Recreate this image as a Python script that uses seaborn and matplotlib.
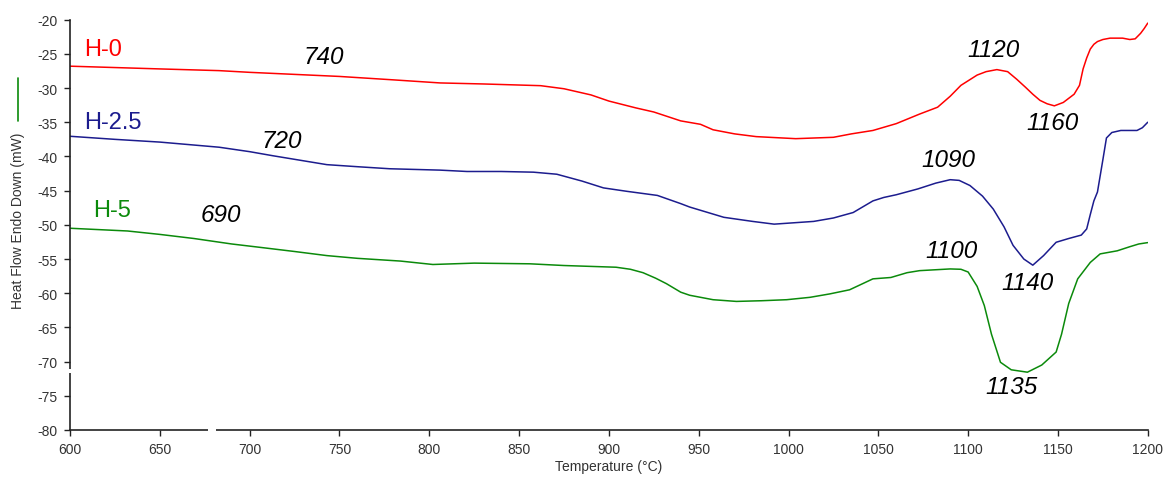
import numpy as np
import pandas as pd
import matplotlib
matplotlib.use("Agg")
import matplotlib.pyplot as plt
from matplotlib.lines import Line2D
from matplotlib.patches import Rectangle
import seaborn as sns

# ---------------- data ----------------
h0_temp = [600, 625, 650, 683, 700, 725, 750, 780, 806, 830, 862, 875, 890, 900, 915, 925,
           940, 951, 958, 970, 982, 1004, 1025, 1035, 1047, 1060, 1073, 1083, 1090, 1096,
           1105, 1110, 1116, 1122, 1127, 1132, 1136, 1140, 1144, 1148, 1153, 1159, 1162,
           1164, 1166, 1168, 1170, 1172, 1175, 1179, 1186, 1190, 1193, 1196, 1198, 1200]
h0_flow = [-26.8, -27.0, -27.2, -27.45, -27.7, -28.0, -28.3, -28.8, -29.25, -29.4, -29.65, -30.1,
           -31.0, -31.9, -32.9, -33.5, -34.8, -35.3, -36.1, -36.7, -37.1, -37.4, -37.2, -36.7,
           -36.2, -35.2, -33.8, -32.8, -31.2, -29.6, -28.1, -27.6, -27.3, -27.6, -28.7, -29.9,
           -30.9, -31.8, -32.3, -32.6, -32.1, -30.9, -29.6, -27.2, -25.6, -24.3, -23.6, -23.2,
           -22.9, -22.7, -22.7, -22.9, -22.8, -22.0, -21.3, -20.5]

h25_temp = [600, 625, 650, 683, 700, 713, 743, 760, 778, 806, 821, 840, 858, 871, 885, 897,
            910, 927, 940, 945, 964, 980, 992, 1014, 1025, 1036, 1047, 1053, 1060, 1072, 1082,
            1090, 1095, 1101, 1108, 1114, 1120, 1125, 1131, 1136, 1142, 1149, 1156, 1163,
            1166, 1168, 1170, 1172, 1175, 1177, 1180, 1185, 1190, 1194, 1197, 1200]
h25_flow = [-37.05, -37.5, -37.9, -38.65, -39.3, -39.9, -41.2, -41.5, -41.8, -42.0, -42.2, -42.2,
            -42.3, -42.6, -43.6, -44.6, -45.1, -45.7, -46.9, -47.4, -48.9, -49.5, -49.9, -49.5,
            -49.0, -48.2, -46.5, -46.0, -45.6, -44.75, -43.9, -43.4, -43.5, -44.25, -45.8, -47.7,
            -50.3, -53.0, -55.0, -55.9, -54.5, -52.55, -52.0, -51.5, -50.6, -48.5, -46.5, -45.2,
            -40.5, -37.3, -36.5, -36.2, -36.2, -36.2, -35.8, -35.0]

h5_temp = [600, 632, 650, 669, 690, 706, 725, 743, 760, 778, 784, 802, 825, 856, 875, 904,
           912, 919, 926, 932, 940, 945, 958, 971, 985, 999, 1012, 1023, 1034, 1047, 1057,
           1066, 1073, 1090, 1096, 1100, 1105, 1109, 1113, 1118, 1124, 1133, 1141, 1149,
           1152, 1156, 1161, 1168, 1173.5, 1183, 1190, 1195, 1200]
h5_flow = [-50.5, -50.9, -51.4, -52.0, -52.8, -53.3, -53.9, -54.5, -54.9, -55.2, -55.3, -55.8,
           -55.6, -55.7, -55.95, -56.2, -56.5, -57.0, -57.8, -58.6, -59.85, -60.3, -60.95, -61.2,
           -61.1, -60.95, -60.6, -60.1, -59.5, -57.9, -57.7, -57.0, -56.7, -56.45, -56.5, -56.9,
           -59.0, -61.8, -66.0, -70.1, -71.2, -71.55, -70.5, -68.6, -66.0, -61.5, -57.9, -55.5,
           -54.25, -53.8, -53.2, -52.8, -52.6]

series_names = ["H-0", "H-2.5", "H-5"]
series_colors = ["#ff0000", "#1c1c8e", "#0b8a0b"]

# series labels: (name, temp, value)
label_temp = [608, 608, 613]
label_flow = [-24.3, -35.0, -47.9]

# peak annotations
peak_text = ["740", "720", "690", "1120", "1160", "1090", "1100", "1140", "1135"]
peak_temp = [741, 718, 684, 1114, 1147, 1089, 1091, 1133, 1124]
peak_flow = [-25.4, -37.7, -48.5, -24.3, -35.0, -40.4, -53.8, -58.4, -73.7]

x_ticks = list(range(600, 1201, 50))
y_ticks = list(range(-80, -19, 5))

# ---------------- figure ----------------
sns.set_style("white")
plt.rcParams["font.family"] = ["Liberation Sans", "DejaVu Sans"]
plt.rcParams["axes.unicode_minus"] = False

df = pd.concat([
    pd.DataFrame({"Temperature": h0_temp, "Flow": h0_flow, "Sample": "H-0"}),
    pd.DataFrame({"Temperature": h25_temp, "Flow": h25_flow, "Sample": "H-2.5"}),
    pd.DataFrame({"Temperature": h5_temp, "Flow": h5_flow, "Sample": "H-5"}),
], ignore_index=True)

fig = plt.figure(figsize=(11.65, 4.81), dpi=100)
ax = fig.add_axes([0.0601, 0.104, 0.9251, 0.853])

sns.lineplot(data=df, x="Temperature", y="Flow", hue="Sample", sort=False,
             palette=dict(zip(series_names, series_colors)), linewidth=1.1,
             legend=False, ax=ax)

ax.set_xlim(600, 1200)
ax.set_ylim(-80, -20)
ax.set_xticks(x_ticks)
ax.set_yticks(y_ticks)
ax.tick_params(axis="both", direction="out", length=4, width=1.0, color="#222222",
               labelsize=10, labelcolor="#333333", pad=5, bottom=True, left=True)
for s in ["top", "right"]:
    ax.spines[s].set_visible(False)
for s in ["left", "bottom"]:
    ax.spines[s].set_color("#222222")
    ax.spines[s].set_linewidth(1.2)

ax.set_xlabel("Temperature (°C)", fontsize=10, color="#333333", labelpad=2)
ax.set_ylabel("")
fig.text(18 / 1165, 1 - 221 / 481, "Heat Flow Endo Down (mW)", rotation=90,
         ha="center", va="center", fontsize=10, color="#333333")
fig.add_artist(Line2D([18 / 1165, 18 / 1165], [1 - 79 / 481, 1 - 122 / 481],
                      color="#0b8a0b", linewidth=1.2))

for name, col, tx, ty in zip(series_names, series_colors, label_temp, label_flow):
    ax.text(tx, ty, name, color=col, fontsize=17, ha="left", va="center")

for t, tx, ty in zip(peak_text, peak_temp, peak_flow):
    ax.text(tx, ty, t, color="black", fontsize=17.5, style="italic",
            ha="center", va="center")

# small breaks in the axis lines, as in the original image
ax.add_patch(Rectangle((676.8, -81), 4.5, 2, transform=ax.transData,
                       facecolor="white", edgecolor="none", clip_on=False, zorder=5))
ax.add_patch(Rectangle((596, -71.6), 8, 0.45, transform=ax.transData,
                       facecolor="white", edgecolor="none", clip_on=False, zorder=5))

fig.savefig("out.png", dpi=100)
